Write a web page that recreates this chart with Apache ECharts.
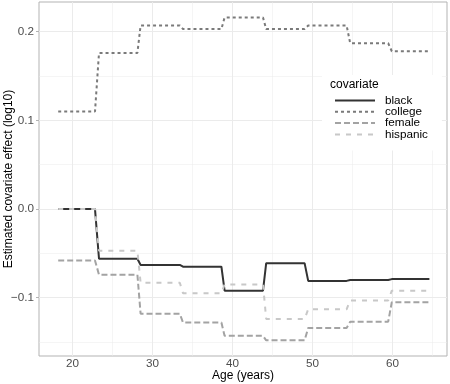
<!DOCTYPE html>
<html>
<head>
<meta charset="utf-8">
<script src="https://cdn.jsdelivr.net/npm/echarts@6/dist/echarts.min.js"></script>
<style>
  html, body { margin: 0; padding: 0; background: #fff; }
  #chart { width: 450px; height: 384px; }
</style>
</head>
<body>
<div id="chart"></div>
<script>
// age bins: each estimate is held from segStart to segEnd
const segStart = [18.2, 23.3, 28.5, 33.8, 39.0, 44.2, 49.45, 54.7, 59.9];
const segEnd = [22.8, 28.1, 33.4, 38.6, 43.8, 49.0, 54.25, 59.45, 64.6];

const black = [0, -0.056, -0.063, -0.065, -0.092, -0.061, -0.081, -0.080, -0.079];
const college = [0.110, 0.176, 0.207, 0.203, 0.216, 0.203, 0.207, 0.187, 0.178];
const female = [-0.058, -0.074, -0.118, -0.128, -0.143, -0.148, -0.134, -0.127, -0.105];
const hispanic = [0, -0.047, -0.083, -0.095, -0.085, -0.124, -0.113, -0.103, -0.092];

const xTicks = [20, 30, 40, 50, 60];
const xMinor = [25, 35, 45, 55, 65];
const yTicks = [-0.1, 0, 0.1, 0.2];
const yMinor = [-0.15, -0.05, 0.05, 0.15];

const font = "'Liberation Sans', Arial, sans-serif";

function steps (vals) {
    let out = [];
    for (let i = 0; i < vals.length; i++) {
        out.push([segStart[i], vals[i]]);
        out.push([segEnd[i], vals[i]]);
    }
    return out;
}

function gridLines () {
    let d = [];
    xMinor.forEach(v => d.push({xAxis: v, lineStyle: {width: 0.5}}));
    yMinor.forEach(v => d.push({yAxis: v, lineStyle: {width: 0.5}}));
    xTicks.forEach(v => d.push({xAxis: v}));
    yTicks.forEach(v => d.push({yAxis: v}));
    return d;
}

const chart = echarts.init(document.getElementById('chart'));
chart.setOption({
    backgroundColor: '#fff',
    animation: false,
    textStyle: {fontFamily: font},
    title: {
        text: 'covariate',
        left: 330,
        top: 79,
        padding: 0,
        z: 10,
        textStyle: {fontFamily: font, fontSize: 12, fontWeight: 'normal', color: '#000'}
    },
    legend: {
        orient: 'vertical',
        left: 322,
        top: 75,
        padding: [19.5, 14, 10, 12],
        backgroundColor: '#fff',
        itemGap: -0.7,
        itemWidth: 40,
        itemHeight: 11,
        itemStyle: {opacity: 0},
        textStyle: {fontFamily: font, fontSize: 11.7, color: '#000', lineHeight: 11, padding: [0, 0, 0, 5]},
        data: ['black', 'college', 'female', 'hispanic']
    },
    grid: {
        left: 39,
        right: 3,
        top: 2,
        bottom: 28,
        outerBoundsMode: 'none',
        containLabel: false,
        show: true,
        borderColor: '#b3b3b3',
        borderWidth: 1,
        backgroundColor: 'transparent'
    },
    xAxis: {
        type: 'value',
        min: 15.8,
        max: 66.8,
        name: 'Age (years)',
        nameLocation: 'middle',
        nameGap: 14,
        nameMoveOverlap: false,
        nameTextStyle: {fontFamily: font, fontSize: 12, color: '#000', verticalAlign: 'top'},
        axisLine: {show: false},
        axisTick: {show: true, length: 3, customValues: xTicks, lineStyle: {color: '#b3b3b3'}},
        axisLabel: {customValues: xTicks, fontSize: 11.7, color: '#4d4d4d', margin: 2},
        splitLine: {show: false}
    },
    yAxis: {
        type: 'value',
        min: -0.1657,
        max: 0.2335,
        name: 'Estimated covariate effect (log10)',
        nameLocation: 'middle',
        nameGap: 24,
        nameMoveOverlap: false,
        nameTextStyle: {fontFamily: font, fontSize: 12, color: '#000'},
        axisLine: {show: false},
        axisTick: {show: true, length: 3, customValues: yTicks, lineStyle: {color: '#b3b3b3'}},
        axisLabel: {
            customValues: yTicks,
            fontSize: 11.7,
            color: '#4d4d4d',
            margin: 5,
            formatter: v => v.toFixed(1).replace('-', '\u2212')
        },
        splitLine: {show: false}
    },
    series: [
        {
            name: 'grid',
            type: 'line',
            data: [],
            z: 0,
            silent: true,
            markLine: {
                z: 1,
                silent: true,
                symbol: 'none',
                label: {show: false},
                lineStyle: {color: '#ebebeb', width: 1, type: 'solid'},
                data: gridLines()
            }
        },
        {
            name: 'black', type: 'line', data: steps(black), showSymbol: false, symbol: 'none',
            color: '#333333', lineStyle: {width: 2, color: '#333333', type: 'solid'}
        },
        {
            name: 'college', type: 'line', data: steps(college), showSymbol: false, symbol: 'none',
            color: '#7a7a7a', lineStyle: {width: 2, color: '#7a7a7a', type: [3, 3]}
        },
        {
            name: 'female', type: 'line', data: steps(female), showSymbol: false, symbol: 'none',
            color: '#a3a3a3', lineStyle: {width: 2, color: '#a3a3a3', type: [6, 3]}
        },
        {
            name: 'hispanic', type: 'line', data: steps(hispanic), showSymbol: false, symbol: 'none',
            color: '#c8c8c8', lineStyle: {width: 2, color: '#c8c8c8', type: [5, 6]}
        }
    ]
});
</script>
</body>
</html>
